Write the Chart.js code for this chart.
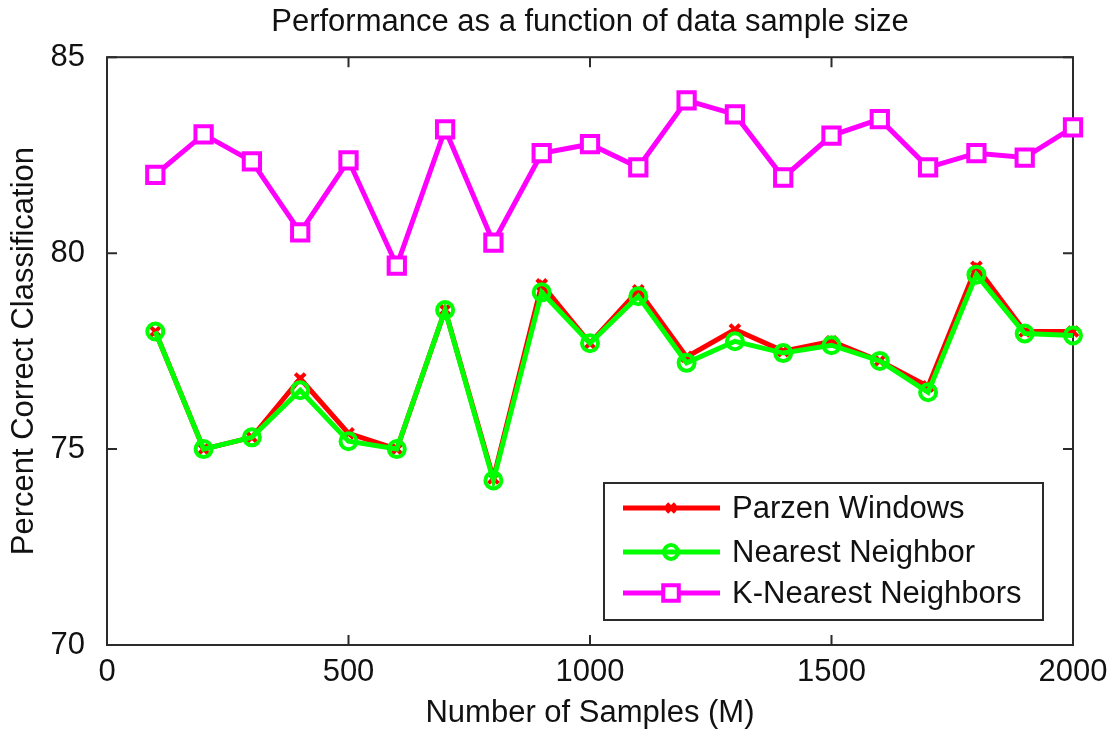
<!DOCTYPE html>
<html>
<head>
<meta charset="utf-8">
<script src="https://cdn.jsdelivr.net/npm/chart.js@4"></script>
<style>
  body { margin: 0; background: #ffffff; }
  #wrap { width: 1113px; height: 732px; }
</style>
</head>
<body>
<div id="wrap"><canvas id="perfChart" width="1113" height="732"></canvas></div>
<script>
// sample sizes (M)
const samples = [100, 200, 300, 400, 500, 600, 700, 800, 900, 1000,
                 1100, 1200, 1300, 1400, 1500, 1600, 1700, 1800, 1900, 2000];

// percent correct classification
const parzen = [78.0, 75.0, 75.3, 76.8, 75.4, 75.0, 78.55, 74.25, 79.2, 77.7,
                79.05, 77.35, 78.05, 77.5, 77.75, 77.25, 76.6, 79.65, 78.0, 78.0];
const nearest = [78.0, 75.0, 75.3, 76.5, 75.2, 75.0, 78.55, 74.2, 79.0, 77.7,
                 78.9, 77.2, 77.75, 77.45, 77.65, 77.25, 76.45, 79.45, 77.95, 77.9];
const kNearest = [82.0, 83.03, 82.34, 80.53, 82.37, 79.68, 83.16, 80.27, 82.55, 82.78,
                  82.19, 83.9, 83.54, 81.93, 83.0, 83.42, 82.19, 82.55, 82.44, 83.21];

const xTicks = [0, 500, 1000, 1500, 2000];
const yTicks = [70, 75, 80, 85];

const FONT = '"Liberation Sans", Arial, Helvetica, sans-serif';
const FONT_SIZE = 31;

function toPoints(values) {
    return samples.map((m, i) => ({ x: m, y: values[i] }));
}

// box around the axes with matlab-style inward ticks
const boxPlugin = {
    id: 'axesBox',
    beforeDatasetsDraw(chart) {
        const { ctx, chartArea: a, scales } = chart;
        ctx.save();
        ctx.strokeStyle = '#2b2b2b';
        ctx.lineWidth = 2;
        ctx.strokeRect(a.left, a.top, a.right - a.left, a.bottom - a.top);
        const len = 10;
        ctx.beginPath();
        xTicks.forEach(v => {
            const px = scales.x.getPixelForValue(v);
            ctx.moveTo(px, a.bottom); ctx.lineTo(px, a.bottom - len);
            ctx.moveTo(px, a.top); ctx.lineTo(px, a.top + len);
        });
        yTicks.forEach(v => {
            const py = scales.y.getPixelForValue(v);
            ctx.moveTo(a.left, py); ctx.lineTo(a.left + len, py);
            ctx.moveTo(a.right, py); ctx.lineTo(a.right - len, py);
        });
        ctx.stroke();
        ctx.restore();
    }
};

function drawMarker(ctx, style, x, y, r) {
    ctx.beginPath();
    if (style === 'rect') {
        const s = r * Math.SQRT1_2;
        ctx.rect(x - s, y - s, 2 * s, 2 * s);
        ctx.fillStyle = '#ffffff';
        ctx.fill();
    } else if (style === 'circle') {
        ctx.arc(x, y, r, 0, Math.PI * 2);
    } else {
        const s = r * Math.SQRT1_2;
        ctx.moveTo(x - s, y - s); ctx.lineTo(x + s, y + s);
        ctx.moveTo(x - s, y + s); ctx.lineTo(x + s, y - s);
    }
    ctx.stroke();
}

// legend box inside the plot, bottom right
const legendPlugin = {
    id: 'insideLegend',
    afterDraw(chart) {
        const { ctx, chartArea: a } = chart;
        const w = 439, h = 137;
        const left = a.right - 30 - w;
        const top = a.bottom - 25 - h;
        ctx.save();
        ctx.fillStyle = '#ffffff';
        ctx.fillRect(left, top, w, h);
        ctx.strokeStyle = '#2b2b2b';
        ctx.lineWidth = 2;
        ctx.strokeRect(left, top, w, h);
        const rows = [25, 69, 110];
        chart.data.datasets.forEach((ds, i) => {
            const y = top + rows[i];
            ctx.strokeStyle = ds.borderColor;
            ctx.lineWidth = 5;
            ctx.beginPath();
            ctx.moveTo(left + 19, y);
            ctx.lineTo(left + 116, y);
            ctx.stroke();
            ctx.lineWidth = 4;
            drawMarker(ctx, ds.pointStyle, left + 67, y, ds.legendRadius);
            ctx.fillStyle = '#111111';
            ctx.font = FONT_SIZE + 'px ' + FONT;
            ctx.textBaseline = 'middle';
            ctx.textAlign = 'left';
            ctx.fillText(ds.label, left + 128, y + 1);
        });
        ctx.restore();
    }
};

new Chart(document.getElementById('perfChart'), {
    type: 'line',
    data: {
        datasets: [{
            label: 'Parzen Windows',
            data: toPoints(parzen),
            borderColor: '#ff0000',
            backgroundColor: '#ff0000',
            borderWidth: 5,
            pointStyle: 'crossRot',
            pointRadius: 7,
            pointBorderWidth: 4,
            legendRadius: 6,
            clip: false,
            order: 3
        }, {
            label: 'Nearest Neighbor',
            data: toPoints(nearest),
            borderColor: '#00ff00',
            backgroundColor: 'rgba(0,0,0,0)',
            borderWidth: 5,
            pointStyle: 'circle',
            pointRadius: 8,
            pointBorderWidth: 4,
            legendRadius: 7,
            clip: false,
            order: 2
        }, {
            label: 'K-Nearest Neighbors',
            data: toPoints(kNearest),
            borderColor: '#ff00ff',
            backgroundColor: '#ffffff',
            borderWidth: 5,
            pointStyle: 'rect',
            pointRadius: 11.5,
            pointBorderWidth: 4,
            legendRadius: 11,
            clip: false,
            order: 1
        }]
    },
    options: {
        responsive: false,
        animation: false,
        events: [],
        layout: { padding: { top: 0, right: 40, bottom: 0, left: 0 } },
        plugins: {
            legend: { display: false },
            tooltip: { enabled: false },
            title: {
                display: true,
                text: 'Performance as a function of data sample size',
                fullSize: false,
                color: '#111111',
                font: { family: FONT, size: FONT_SIZE, weight: 'normal' },
                padding: { top: 4, bottom: 16 }
            }
        },
        scales: {
            x: {
                type: 'linear',
                min: 0,
                max: 2000,
                afterBuildTicks: (scale) => { scale.ticks = xTicks.map(v => ({ value: v })); },
                afterFit: (scale) => { scale.height = 87; },
                grid: { display: false },
                border: { display: false },
                ticks: {
                    color: '#111111',
                    padding: 1,
                    maxRotation: 0,
                    callback: (v) => String(v),
                    font: { family: FONT, size: FONT_SIZE }
                },
                title: {
                    display: true,
                    text: 'Number of Samples (M)',
                    color: '#111111',
                    font: { family: FONT, size: FONT_SIZE },
                    padding: { top: 0, bottom: 0 }
                }
            },
            y: {
                min: 70,
                max: 85,
                afterBuildTicks: (scale) => { scale.ticks = yTicks.map(v => ({ value: v })); },
                afterFit: (scale) => { scale.width = 107; },
                grid: { display: false },
                border: { display: false },
                ticks: {
                    color: '#111111',
                    padding: 14,
                    callback: (v) => String(v),
                    font: { family: FONT, size: FONT_SIZE }
                },
                title: {
                    display: true,
                    text: 'Percent Correct Classification',
                    color: '#111111',
                    font: { family: FONT, size: FONT_SIZE },
                    padding: { top: 6, bottom: 0 }
                }
            }
        }
    },
    plugins: [boxPlugin, legendPlugin]
});
</script>
</body>
</html>
